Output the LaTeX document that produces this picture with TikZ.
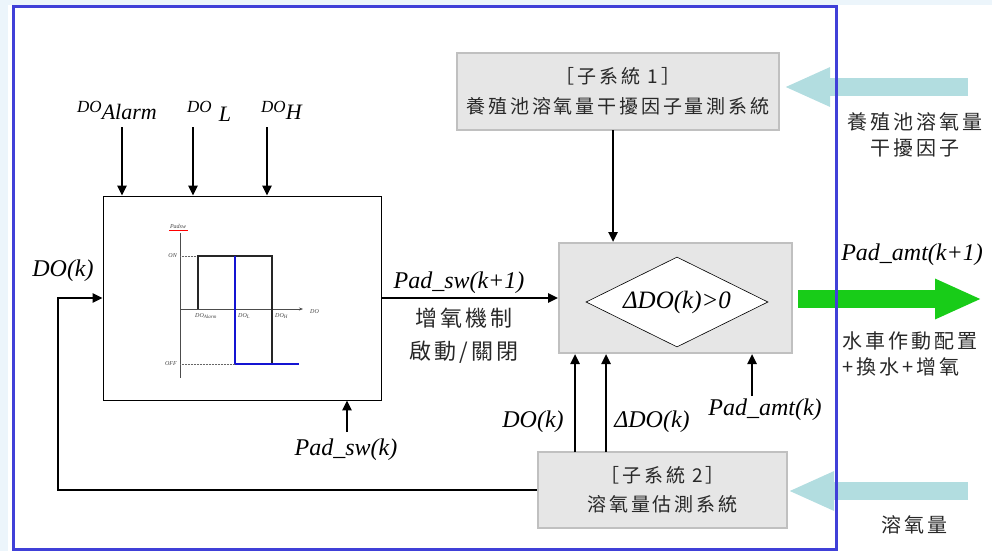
\documentclass[tikz,border=0pt]{standalone}
\usepackage{fontspec}
\setmainfont{Liberation Serif}
\newfontfamily\cjksp{Noto Sans CJK TC}[LetterSpace=15]
\usetikzlibrary{arrows.meta,shapes.geometric}
\definecolor{frameblue}{RGB}{64,64,216}
\definecolor{bgblue}{RGB}{236,245,251}
\definecolor{sysfill}{RGB}{230,230,230}
\definecolor{sysdraw}{RGB}{192,192,192}
\definecolor{lightarr}{RGB}{178,221,224}
\definecolor{greenarr}{RGB}{24,204,24}
\definecolor{cjktext}{RGB}{40,40,40}
\definecolor{curveblue}{RGB}{20,20,210}
\tikzset{
  sysbox/.style={draw=sysdraw, line width=2pt, fill=sysfill, inner sep=0pt, align=center,
    text=cjktext, font=\cjksp\fontsize{19}{30}\selectfont},
  arr/.style={line width=2.4pt, -{Triangle[length=10pt,width=9pt]}},
  lbl/.style={font=\fontsize{24}{28}\selectfont\itshape, inner sep=0pt},
  cjkl/.style={font=\cjksp\fontsize{20}{26}\selectfont, inner sep=0pt, text=cjktext},
  bigarr/.style={line width=18pt, lightarr, -{Triangle[length=46pt,width=36pt]}},
  tiny/.style={font=\fontsize{6}{7}\selectfont\itshape, inner sep=0pt, text=black!75},
}
\begin{document}
\begin{tikzpicture}[x=1pt,y=-1pt]
\useasboundingbox (0,0) rectangle (992,551);
\fill[bgblue] (0,0) rectangle (992,5);
\fill[bgblue] (0,0) rectangle (8,551);

% main nodes
\node[sysbox, minimum width=322pt, minimum height=77pt] (s1) at (618,91.5) {［子系統 1］\\養殖池溶氧量干擾因子量測系統};
\node[sysbox, minimum width=233pt, minimum height=110pt] (dec) at (675.5,298) {};
\node[diamond, draw, fill=white, line width=0.6pt, minimum width=182pt, minimum height=90pt, aspect=2.0, inner sep=0pt, font=\fontsize{25}{28}\selectfont\itshape] (dm) at (677,302) {ΔDO(k)>0};
\node[draw, line width=0.8pt, minimum width=278pt, minimum height=204pt, inner sep=0pt] (hb) at (242,298) {};
\node[sysbox, minimum width=249pt, minimum height=76pt, font=\cjksp\fontsize{19}{29}\selectfont] (s2) at (662.5,490) {［子系統 2］\\溶氧量估測系統};

% hysteresis graph inside hb
\draw[line width=0.6pt, black!70] (180,233) -- (180,378);
\draw[line width=0.6pt, black!70, -{Stealth[length=4pt,width=3pt]}] (180,309) -- (303,309);
\node[tiny, anchor=west] (gdo) at (310,312) {DO};
\node[tiny] (gpad) at (178,226) {Padsw};
\draw[red, line width=0.4pt] (169,230) -- (188,230);
\node[tiny, anchor=east] (gon) at (177,256) {ON};
\node[tiny, anchor=east] (goff) at (177,364) {OFF};
\draw[densely dotted, black!60, line width=0.5pt] (180,256) -- (198,256);
\draw[densely dotted, black!60, line width=0.5pt] (180,364) -- (235,364);
\draw[line width=1.5pt, black!85] (198,309) -- (198,256) -- (272,256) -- (272,364);
\draw[line width=1.5pt, curveblue] (235,364) -- (235,256);
\draw[line width=1.5pt, curveblue] (235,364) -- (299,364);
\node[tiny, anchor=north west] (gal) at (195,313) {DO\textsubscript{Alarm}};
\node[tiny, anchor=north west] (gl) at (238,313) {DO\textsubscript{L}};
\node[tiny, anchor=north west] (gh) at (275,313) {DO\textsubscript{H}};

% top input labels and arrows
\node[anchor=base west, inner sep=0pt] (lA) at (77,119) {\raisebox{7pt}{\fontsize{17}{17}\selectfont\itshape DO}\fontsize{22}{22}\selectfont\itshape Alarm};
\node[anchor=base west, inner sep=0pt] (lL) at (187,121) {\raisebox{9pt}{\fontsize{17}{17}\selectfont\itshape DO}\hspace{7pt}\fontsize{22}{22}\selectfont\itshape L};
\node[anchor=base west, inner sep=0pt] (lH) at (261,119) {\raisebox{7pt}{\fontsize{17}{17}\selectfont\itshape DO}\fontsize{22}{22}\selectfont\itshape H};
\coordinate (a1) at (122,127);
\coordinate (a2) at (193,127);
\coordinate (a3) at (267,127);
\draw[arr] (a1) -- (a1 |- hb.north);
\draw[arr] (a2) -- (a2 |- hb.north);
\draw[arr] (a3) -- (a3 |- hb.north);

% feedback DO(k)
\node[lbl] (ldok) at (63,271) {DO(k)};
\coordinate (fb) at (58,490);
\draw[arr] (s2.west) -- (fb) |- (hb.west);

% Pad_sw(k+1)
\draw[arr] (hb.east) -- (hb.east -| dec.west);
\node[lbl] (lpsw1) at (459,283) {Pad\_sw(k+1)};
\node[cjkl, align=center, font=\cjksp\fontsize{22}{33}\selectfont] (lzy) at (464,336) {增氧機制\\啟動/關閉};

% Pad_sw(k)
\coordinate (u4) at (347,432);
\draw[arr] (u4) -- (u4 |- hb.south);
\node[lbl] (lpsw) at (346,450) {Pad\_sw(k)};

% sub1 to decision
\coordinate (t1) at (613,130);
\draw[arr] (t1) -- (t1 |- dec.north);

% sub2 to decision
\coordinate (u1) at (575,452);
\coordinate (u2) at (606,452);
\draw[arr] (u1) -- (u1 |- dec.south);
\draw[arr] (u2) -- (u2 |- dec.south);
\node[lbl] (ldo2) at (533,422) {DO(k)};
\node[lbl] (lddo) at (652,422) {ΔDO(k)};

% Pad_amt(k)
\coordinate (u3) at (752,396);
\draw[arr] (u3) -- (u3 |- dec.south);
\node[lbl] (lpa) at (765,410) {Pad\_amt(k)};

% big light arrows
\coordinate (in1) at (968,87);
\draw[bigarr, shorten >=4pt] (in1) -- (in1 -| s1.east);
\coordinate (in2) at (968,491);
\draw[bigarr] (in2) -- (in2 -| s2.east);
\node[cjkl, align=center] (lin1) at (915,135) {養殖池溶氧量\\干擾因子};
\node[cjkl] (lin2) at (914,525) {溶氧量};

% green output arrow
\coordinate (g1) at (798,299);
\coordinate (g2) at (982,299);
\draw[line width=18pt, greenarr, -{Triangle[length=47pt,width=37pt]}] (g1) -- (g2);
\node[lbl] (lpa1) at (912,255) {Pad\_amt(k+1)};
\node[cjkl, align=left, anchor=west] (lout) at (842,354) {水車作動配置\\+換水+增氧};

% blue frame
\draw[frameblue, line width=3pt] (13,7) rectangle (836,549);
\end{tikzpicture}
\end{document}
